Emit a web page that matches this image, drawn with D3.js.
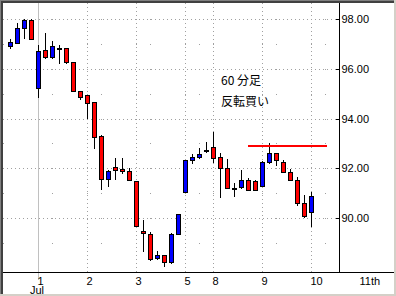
<!DOCTYPE html>
<html>
<head>
<meta charset="utf-8">
<script src="https://cdn.jsdelivr.net/npm/d3@7"></script>
<style>
  html, body { margin: 0; padding: 0; background: #fff; }
  svg { display: block; }
</style>
</head>
<body>
<div id="chart"></div>
<script>
// 60-minute candles, index 0 = first bar shown
const open  = [96.91, 97.04, 97.64, 97.96, 95.23, 96.75, 96.47, 96.83, 96.83, 96.27, 95.11,
               94.94, 94.66, 93.30, 91.57, 92.05, 91.97, 91.89, 91.49, 89.48, 89.36, 88.39,
               88.51, 88.23, 89.36, 91.05, 92.33, 92.45, 92.73, 92.85, 92.45, 92.01, 91.19,
               91.25, 91.53, 91.49, 91.29, 92.25, 92.61, 92.25, 91.85, 91.53, 90.60, 90.24];
const high  = [97.20, 97.84, 98.00, 97.98, 96.95, 97.44, 97.12, 96.95, 96.85, 96.27, 95.11,
               94.94, 94.66, 93.32, 91.93, 92.41, 92.41, 92.01, 91.49, 89.92, 89.44, 88.67,
               88.53, 89.38, 90.18, 92.35, 92.57, 92.81, 93.05, 93.46, 92.61, 92.37, 91.41,
               91.93, 91.61, 91.53, 92.29, 93.02, 92.63, 92.33, 91.97, 91.65, 90.92, 91.05];
const low   = [96.83, 97.02, 97.24, 97.18, 94.86, 96.45, 96.45, 96.23, 96.25, 95.09, 94.78,
               94.02, 92.81, 91.17, 91.29, 91.57, 91.81, 91.51, 89.66, 88.67, 88.33, 88.35,
               88.07, 88.21, 89.34, 91.03, 92.21, 92.43, 92.65, 92.25, 90.84, 91.19, 90.88,
               91.21, 91.11, 91.11, 91.27, 92.23, 92.13, 91.83, 91.51, 90.52, 90.04, 89.68];
const close = [97.08, 97.64, 97.96, 97.20, 96.71, 96.47, 96.91, 96.83, 96.27, 95.11, 94.86,
               94.62, 93.26, 91.57, 91.89, 91.93, 91.89, 91.53, 89.68, 89.40, 88.35, 88.51,
               88.23, 89.36, 90.16, 92.33, 92.45, 92.57, 92.73, 92.41, 92.01, 91.21, 91.19,
               91.53, 91.13, 91.13, 92.25, 92.61, 92.33, 91.85, 91.53, 90.60, 90.08, 90.88];

const dayStarts = [4, 11, 18, 25, 29, 36, 43, 50];
const dayLabels = ["1", "2", "3", "5", "8", "9", "10", "11th"];
const monthLabel = "Jul";
const monthStart = 4;
const minorX = [-1, 6, 13, 20, 27, 38, 45];

const yTicks = [90, 92, 94, 96, 98];
const yMinor = [89, 91, 93, 95, 97];

const resistance = {from: 33.9, to: 45.2, price: 92.90};
const noteLines = ["60 分足", "反転買い"];

const config = {
  width: 396,
  height: 296,
  plot: {left: 3, top: 3, right: 339.5, bottom: 272.5},
  bodyWidth: 4,
  grid: "#a0a0a0",
  up: "#0000ff",
  down: "#ff0000"
};

const svg = d3.select("#chart").append("svg")
  .attr("width", config.width)
  .attr("height", config.height)
  .attr("viewBox", [0, 0, config.width, config.height]);

const x = d3.scaleLinear([-1, 47], [3.5, 339.5]);
const y = d3.scaleLinear([90, 98], [218, 19]);
const P = config.plot;
const fmt = d3.format(".2f");

svg.append("rect").attr("width", config.width).attr("height", config.height).attr("fill", "#fff");

// grid
const grid = svg.append("g").attr("stroke", config.grid).attr("shape-rendering", "crispEdges");

grid.selectAll("line.h")
  .data(yTicks)
  .join("line")
  .attr("x1", P.left).attr("x2", P.right - 1)
  .attr("y1", d => Math.round(y(d)) + 0.5).attr("y2", d => Math.round(y(d)) + 0.5)
  .attr("stroke-dasharray", "1,3");

grid.selectAll("line.v")
  .data(dayStarts.filter(d => d !== monthStart && x(d) < P.right))
  .join("line")
  .attr("x1", d => Math.floor(x(d)) + 0.5).attr("x2", d => Math.floor(x(d)) + 0.5)
  .attr("y1", P.top).attr("y2", P.bottom)
  .attr("stroke-dasharray", "1,3");

// sparse dots where minor lines cross the others
const vAll = minorX.concat(dayStarts.filter(d => x(d) < P.right));
const hAll = yTicks.concat(yMinor);
const dots = [];
minorX.forEach(i => hAll.forEach(v => dots.push([i, v])));
yMinor.forEach(v => vAll.forEach(i => dots.push([i, v])));
svg.append("g").attr("fill", config.grid)
  .selectAll("rect")
  .data(dots)
  .join("rect")
  .attr("x", d => Math.floor(x(d[0])))
  .attr("y", d => Math.round(y(d[1])))
  .attr("width", 1).attr("height", 1);

// month boundary
svg.append("line")
  .attr("x1", Math.floor(x(monthStart)) + 0.5).attr("x2", Math.floor(x(monthStart)) + 0.5)
  .attr("y1", P.top).attr("y2", 280)
  .attr("stroke", "#c0c0c0")
  .attr("shape-rendering", "crispEdges");

// candles
const I = d3.range(open.length);
const candles = svg.append("g").attr("shape-rendering", "crispEdges");

candles.selectAll("line")
  .data(I)
  .join("line")
  .attr("x1", i => Math.floor(x(i)) + 0.5).attr("x2", i => Math.floor(x(i)) + 0.5)
  .attr("y1", i => Math.round(y(high[i])))
  .attr("y2", i => Math.round(y(low[i])) + 1)
  .attr("stroke", "#000");

candles.selectAll("rect")
  .data(I)
  .join("rect")
  .attr("x", i => Math.floor(x(i)) + 0.5 - config.bodyWidth / 2)
  .attr("width", config.bodyWidth)
  .attr("y", i => Math.round(y(Math.max(open[i], close[i]))) + 0.5)
  .attr("height", i => Math.max(1, Math.round(y(Math.min(open[i], close[i]))) - Math.round(y(Math.max(open[i], close[i])))))
  .attr("fill", i => Math.abs(open[i] - close[i]) < 0.02 ? "#000" : (close[i] > open[i] ? config.up : config.down))
  .attr("stroke", "#000");

// resistance line
svg.append("line")
  .attr("x1", x(resistance.from)).attr("x2", x(resistance.to))
  .attr("y1", Math.round(y(resistance.price))).attr("y2", Math.round(y(resistance.price)))
  .attr("stroke", config.down)
  .attr("stroke-width", 2)
  .attr("shape-rendering", "crispEdges");

// note
svg.append("g")
  .attr("font-family", "'Noto Sans CJK JP', sans-serif")
  .attr("font-size", 12)
  .attr("fill", "#000")
  .selectAll("text")
  .data(noteLines)
  .join("text")
  .attr("x", 221)
  .attr("y", (d, i) => 84.5 + i * 21)
  .text(d => d);

// axes
const yAxis = d3.axisRight(y).tickValues(yTicks).tickFormat(fmt).tickSizeInner(-4).tickSizeOuter(0).tickPadding(2);
svg.append("g")
  .attr("transform", `translate(${P.right},0)`)
  .call(yAxis)
  .call(g => g.select(".domain").remove())
  .call(g => g.selectAll(".tick line").attr("shape-rendering", "crispEdges"))
  .call(g => g.selectAll("text")
    .attr("font-family", "'Liberation Sans', Arial, sans-serif")
    .attr("font-size", 11)
    .attr("fill", "#000"));

const xAxis = d3.axisBottom(x).tickValues(dayStarts).tickFormat((d, i) => dayLabels[i]).tickSize(0);
svg.append("g")
  .attr("transform", `translate(0,${P.bottom})`)
  .call(xAxis)
  .call(g => g.select(".domain").remove())
  .call(g => g.selectAll("text")
    .attr("dy", null)
    .attr("y", 12)
    .attr("x", -1.5)
    .attr("text-anchor", "start")
    .attr("font-family", "'Liberation Sans', Arial, sans-serif")
    .attr("font-size", 11)
    .attr("fill", "#000"))
  .call(g => g.append("text")
    .attr("x", x(monthStart) - 1.5)
    .attr("y", 21.5)
    .attr("fill", "#000")
    .attr("font-family", "'Liberation Sans', Arial, sans-serif")
    .attr("font-size", 11)
    .text(monthLabel));

svg.append("g").attr("stroke", "#000").attr("shape-rendering", "crispEdges")
  .call(g => g.append("line").attr("x1", P.right).attr("x2", P.right).attr("y1", P.top).attr("y2", P.bottom))
  .call(g => g.append("line").attr("x1", P.left).attr("x2", config.width).attr("y1", P.bottom).attr("y2", P.bottom));

// window frame
const frame = svg.append("g").attr("shape-rendering", "crispEdges");
frame.append("rect").attr("x", 0).attr("y", 0).attr("width", config.width).attr("height", 1).attr("fill", "#808080");
frame.append("rect").attr("x", 0).attr("y", 1).attr("width", config.width).attr("height", 2).attr("fill", "#404040");
frame.append("rect").attr("x", 0).attr("y", 0).attr("width", 1).attr("height", config.height).attr("fill", "#808080");
frame.append("rect").attr("x", 1).attr("y", 1).attr("width", 2).attr("height", config.height - 1).attr("fill", "#404040");
frame.append("rect").attr("x", config.width - 2).attr("y", 0).attr("width", 2).attr("height", config.height).attr("fill", "#d4d0c8");
frame.append("rect").attr("x", 0).attr("y", config.height - 2).attr("width", config.width).attr("height", 2).attr("fill", "#d4d0c8");
</script>
</body>
</html>
